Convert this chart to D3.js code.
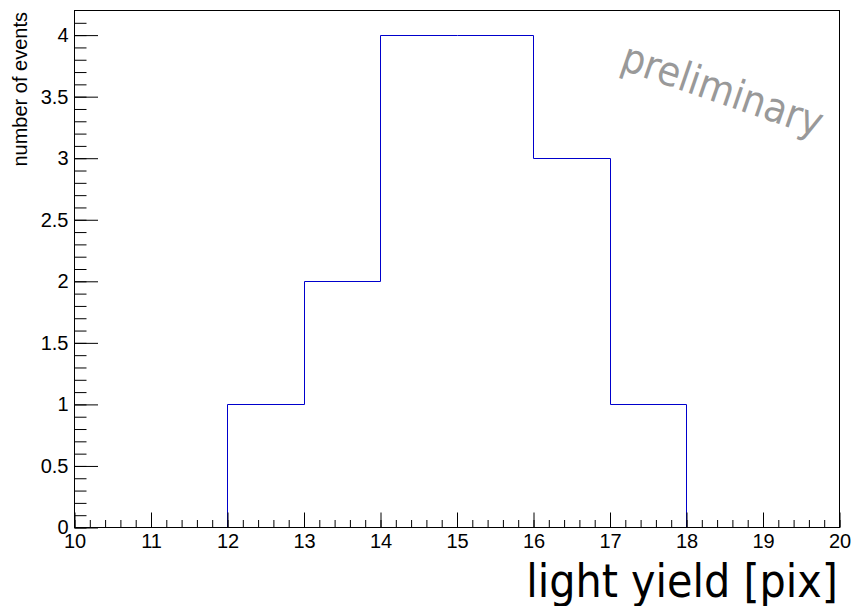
<!DOCTYPE html>
<html>
<head>
<meta charset="utf-8">
<script src="https://cdn.jsdelivr.net/npm/d3@7"></script>
<style>
  html, body { margin: 0; padding: 0; background: #fff; }
  svg { display: block; }
</style>
</head>
<body>
<svg id="chart" width="853" height="606"></svg>
<script>
// ---- data ----
const binEdges = [10, 11, 12, 13, 14, 15, 16, 17, 18, 19, 20];
const counts   = [0, 0, 1, 2, 4, 4, 3, 1, 0, 0];
const xTickValues = [10, 11, 12, 13, 14, 15, 16, 17, 18, 19, 20];
const yTickValues = [0, 0.5, 1, 1.5, 2, 2.5, 3, 3.5, 4];
const xMinorStep = 0.2;
const yMinorStep = 0.1;
const xDomain = [10, 20];
const yDomain = [0, 4.2];
const xTitle = "light yield [pix]";
const yTitle = "number of events";
const watermark = "preliminary";

// ---- layout ----
const m = { left: 74.5, right: 839.5, top: 10.5, bottom: 527.5 };
const svg = d3.select("#chart");

const x = d3.scaleLinear().domain(xDomain).range([m.left, m.right]);
const y = d3.scaleLinear().domain(yDomain).range([m.bottom, m.top]);

const labelFont = "'Liberation Sans', Arial, Helvetica, sans-serif";
const titleFont = "'DejaVu Sans Condensed', 'DejaVu Sans', sans-serif";

const xMinor = d3.range(xDomain[0], xDomain[1] + 1e-9, xMinorStep).map(v => +v.toFixed(4));
const yMinor = d3.range(yDomain[0], 4.1 + 1e-9, yMinorStep).map(v => +v.toFixed(4));

// histogram outline (drawn first so the frame covers zero-height parts)
const pts = [];
counts.forEach((c, i) => {
  pts.push([binEdges[i], c]);
  pts.push([binEdges[i + 1], c]);
});
svg.append("path")
  .datum(pts)
  .attr("fill", "none")
  .attr("stroke", "#0000cc")
  .attr("stroke-width", 1)
  .attr("d", d3.line().x(d => Math.floor(x(d[0])) + 0.5).y(d => Math.floor(y(d[1])) + 0.5));

// x minor ticks
svg.append("g")
  .attr("transform", `translate(0,${m.bottom})`)
  .call(d3.axisBottom(x).tickValues(xMinor).tickSizeInner(-7.5).tickSizeOuter(0).tickFormat(""))
  .call(g => g.select(".domain").remove())
  .call(g => g.selectAll("line").attr("stroke", "#000").attr("stroke-width", 1));

// x major ticks + labels
svg.append("g")
  .attr("transform", `translate(0,${m.bottom})`)
  .call(d3.axisBottom(x).tickValues(xTickValues).tickSizeInner(-15).tickSizeOuter(0).tickPadding(4)
        .tickFormat(d3.format("d")))
  .call(g => g.select(".domain").remove())
  .call(g => g.selectAll("line").attr("stroke", "#000").attr("stroke-width", 1))
  .call(g => g.selectAll("text")
      .attr("font-family", labelFont).attr("font-size", 20).attr("fill", "#000")
      .attr("dy", "0.95em").attr("y", 1));

// y minor ticks
svg.append("g")
  .attr("transform", `translate(${m.left},0)`)
  .call(d3.axisLeft(y).tickValues(yMinor).tickSizeInner(-12).tickSizeOuter(0).tickFormat(""))
  .call(g => g.select(".domain").remove())
  .call(g => g.selectAll("line").attr("stroke", "#000").attr("stroke-width", 1));

// y major ticks + labels
svg.append("g")
  .attr("transform", `translate(${m.left},0)`)
  .call(d3.axisLeft(y).tickValues(yTickValues).tickSizeInner(-23.5).tickSizeOuter(0).tickPadding(6)
        .tickFormat(d3.format("")))
  .call(g => g.select(".domain").remove())
  .call(g => g.selectAll("line").attr("stroke", "#000").attr("stroke-width", 1))
  .call(g => g.selectAll("text")
      .attr("font-family", labelFont).attr("font-size", 20).attr("fill", "#000"));

// frame
svg.append("rect")
  .attr("x", m.left).attr("y", m.top)
  .attr("width", m.right - m.left).attr("height", m.bottom - m.top)
  .attr("fill", "none").attr("stroke", "#000").attr("stroke-width", 1);

// y title
svg.append("text")
  .attr("transform", `translate(27,12) rotate(-90)`)
  .attr("text-anchor", "end")
  .attr("font-family", labelFont).attr("font-size", 20).attr("fill", "#000")
  .text(yTitle);

// x title
svg.append("text")
  .attr("x", 838).attr("y", 597)
  .attr("text-anchor", "end")
  .attr("font-family", titleFont)
  .attr("font-size", 46).attr("fill", "#000")
  .text(xTitle);

// watermark
svg.append("text")
  .attr("transform", `translate(718,103) rotate(19)`)
  .attr("text-anchor", "middle")
  .attr("font-family", titleFont)
  .attr("font-size", 41).attr("fill", "#999999")
  .text(watermark);
</script>
</body>
</html>
